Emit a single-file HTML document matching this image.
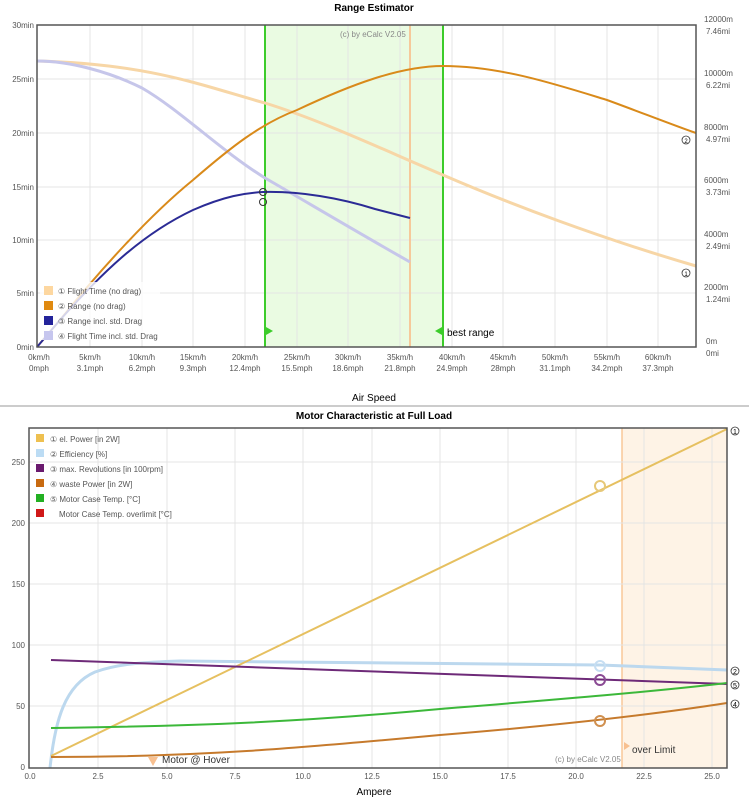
<!DOCTYPE html>
<html><head><meta charset="utf-8"><style>
body{margin:0;background:#fff;}
svg{display:block;font-family:"Liberation Sans",sans-serif;}
</style></head><body>
<svg width="749" height="800" viewBox="0 0 749 800">
<rect width="749" height="800" fill="#fff"/>
<!-- ============ CHART 1 ============ -->
<text x="374" y="11" font-size="10" font-weight="bold" text-anchor="middle">Range Estimator</text>
<!-- green band -->
<rect x="265" y="25" width="178" height="322" fill="#eafbe2"/>
<g stroke="#e4e4e4" stroke-width="1">
<line x1="37" y1="79" x2="696" y2="79"/><line x1="37" y1="133" x2="696" y2="133"/><line x1="37" y1="187" x2="696" y2="187"/><line x1="37" y1="240" x2="696" y2="240"/><line x1="37" y1="293" x2="696" y2="293"/>
<line x1="90" y1="25" x2="90" y2="347"/><line x1="142" y1="25" x2="142" y2="347"/><line x1="193" y1="25" x2="193" y2="347"/><line x1="245" y1="25" x2="245" y2="347"/><line x1="297" y1="25" x2="297" y2="347"/><line x1="348" y1="25" x2="348" y2="347"/><line x1="400" y1="25" x2="400" y2="347"/><line x1="452" y1="25" x2="452" y2="347"/><line x1="503" y1="25" x2="503" y2="347"/><line x1="555" y1="25" x2="555" y2="347"/><line x1="607" y1="25" x2="607" y2="347"/><line x1="658" y1="25" x2="658" y2="347"/>
</g>
<line x1="265" y1="25" x2="265" y2="347" stroke="#3ccc2a" stroke-width="2"/>
<line x1="443" y1="25" x2="443" y2="347" stroke="#3ccc2a" stroke-width="2"/>
<line x1="410" y1="25" x2="410" y2="347" stroke="#f6c99a" stroke-width="2"/>
<polygon points="266,327 273,331 266,335" fill="#3ccc2a"/>
<polygon points="442,327 435,331 442,335" fill="#3ccc2a"/>
<text x="447" y="336" font-size="10">best range</text>
<text x="340" y="37" font-size="8" fill="#888">(c) by eCalc  V2.05</text>
<!-- curves -->
<path d="M37,61 C150,64 200,85 265,103 C320,120 375,146 443,175 C510,204 600,238 696,266" fill="none" stroke="#f7d6a6" stroke-width="3"/>
<path d="M37,61 C70,61 110,72 142,88 C180,110 220,150 265,178 C300,198 350,228 410,262" fill="none" stroke="#c6c6ea" stroke-width="3"/>
<path d="M37,347 L60,320 C100,270 150,215 193,180 C230,148 260,124 297,110 C350,85 400,66 443,66 C500,66 555,84 607,100 C640,112 670,124 696,133" fill="none" stroke="#d98a1a" stroke-width="2"/>
<path d="M37,347 L60,320 C100,275 140,235 193,210 C225,196 245,193 263,192 C300,191 340,198 375,209 L410,218" fill="none" stroke="#2b2b95" stroke-width="2"/>
<circle cx="263" cy="192" r="3.5" fill="none" stroke="#333"/>
<circle cx="263" cy="202" r="3.5" fill="none" stroke="#333"/>
<circle cx="686" cy="140" r="4" fill="#fff" stroke="#333" stroke-width=".8"/><text x="686" y="143" font-size="6" text-anchor="middle">2</text>
<circle cx="686" cy="273" r="4" fill="#fff" stroke="#333" stroke-width=".8"/><text x="686" y="276" font-size="6" text-anchor="middle">1</text>
<!-- legend -->
<rect x="40" y="282" width="120" height="58" fill="#fff" opacity=".8"/>
<g font-size="8" fill="#555">
<rect x="44" y="286" width="9" height="9" fill="#fdd7a0"/><text x="58" y="294">① Flight Time (no drag)</text>
<rect x="44" y="301" width="9" height="9" fill="#e08a10"/><text x="58" y="309">② Range (no drag)</text>
<rect x="44" y="316" width="9" height="9" fill="#23239a"/><text x="58" y="324">③ Range incl. std. Drag</text>
<rect x="44" y="331" width="9" height="9" fill="#c6c6ee"/><text x="58" y="339">④ Flight Time incl. std. Drag</text>
</g>
<rect x="37" y="25" width="659" height="322" fill="none" stroke="#555" stroke-width="1.5"/>
<g font-size="8" fill="#555" text-anchor="end">
<text x="34" y="28">30min</text><text x="34" y="82">25min</text><text x="34" y="136">20min</text><text x="34" y="190">15min</text><text x="34" y="243">10min</text><text x="34" y="296">5min</text><text x="34" y="350">0min</text>
</g>
<g font-size="8" fill="#555">
<text x="704" y="22">12000m</text><text x="706" y="34">7.46mi</text>
<text x="704" y="76">10000m</text><text x="706" y="88">6.22mi</text>
<text x="704" y="130">8000m</text><text x="706" y="142">4.97mi</text>
<text x="704" y="183">6000m</text><text x="706" y="195">3.73mi</text>
<text x="704" y="237">4000m</text><text x="706" y="249">2.49mi</text>
<text x="704" y="290">2000m</text><text x="706" y="302">1.24mi</text>
<text x="706" y="344">0m</text><text x="706" y="356">0mi</text>
</g>
<g font-size="8" fill="#555" text-anchor="middle">
<text x="39" y="360">0km/h</text><text x="39" y="371">0mph</text>
<text x="90" y="360">5km/h</text><text x="90" y="371">3.1mph</text>
<text x="142" y="360">10km/h</text><text x="142" y="371">6.2mph</text>
<text x="193" y="360">15km/h</text><text x="193" y="371">9.3mph</text>
<text x="245" y="360">20km/h</text><text x="245" y="371">12.4mph</text>
<text x="297" y="360">25km/h</text><text x="297" y="371">15.5mph</text>
<text x="348" y="360">30km/h</text><text x="348" y="371">18.6mph</text>
<text x="400" y="360">35km/h</text><text x="400" y="371">21.8mph</text>
<text x="452" y="360">40km/h</text><text x="452" y="371">24.9mph</text>
<text x="503" y="360">45km/h</text><text x="503" y="371">28mph</text>
<text x="555" y="360">50km/h</text><text x="555" y="371">31.1mph</text>
<text x="607" y="360">55km/h</text><text x="607" y="371">34.2mph</text>
<text x="658" y="360">60km/h</text><text x="658" y="371">37.3mph</text>
</g>
<text x="374" y="401" font-size="10" text-anchor="middle">Air Speed</text>
<line x1="0" y1="406" x2="749" y2="406" stroke="#999" stroke-width="1"/>
<!-- ============ CHART 2 ============ -->
<text x="374" y="419" font-size="10" font-weight="bold" text-anchor="middle">Motor Characteristic at Full Load</text>
<rect x="622" y="428" width="105" height="340" fill="#fef3e6"/>
<line x1="622" y1="428" x2="622" y2="768" stroke="#f8c898" stroke-width="1.5"/>
<g stroke="#e4e4e4" stroke-width="1">
<line x1="29" y1="706" x2="727" y2="706"/><line x1="29" y1="645" x2="727" y2="645"/><line x1="29" y1="584" x2="727" y2="584"/><line x1="29" y1="523" x2="727" y2="523"/><line x1="29" y1="462" x2="727" y2="462"/>
<line x1="98" y1="428" x2="98" y2="768"/><line x1="167" y1="428" x2="167" y2="768"/><line x1="235" y1="428" x2="235" y2="768"/><line x1="303" y1="428" x2="303" y2="768"/><line x1="372" y1="428" x2="372" y2="768"/><line x1="440" y1="428" x2="440" y2="768"/><line x1="508" y1="428" x2="508" y2="768"/><line x1="576" y1="428" x2="576" y2="768"/><line x1="644" y1="428" x2="644" y2="768"/><line x1="712" y1="428" x2="712" y2="768"/>
</g>
<path d="M50,768 C55,720 65,685 95,672 C120,663 150,662 180,661 L600,665 L727,670" fill="none" stroke="#bcd8ee" stroke-width="3"/>
<line x1="51" y1="756" x2="727" y2="429" stroke="#e6c060" stroke-width="2"/>
<line x1="51" y1="660" x2="727" y2="684" stroke="#6e2a78" stroke-width="2"/>
<path d="M51,728 C200,726 300,722 440,709 C550,700 650,692 727,683" fill="none" stroke="#3cb83a" stroke-width="2"/>
<path d="M51,757 C200,757 300,748 440,735 C550,726 650,715 727,703" fill="none" stroke="#c67a2c" stroke-width="2"/>
<circle cx="600" cy="486" r="5" fill="none" stroke="#e6c878" stroke-width="2"/>
<circle cx="600" cy="666" r="5" fill="none" stroke="#c6def2" stroke-width="2"/>
<circle cx="600" cy="680" r="5" fill="none" stroke="#8a4a94" stroke-width="2"/>
<circle cx="600" cy="721" r="5" fill="none" stroke="#d09050" stroke-width="2"/>
<polygon points="148,757 158,757 153,766" fill="#f8c090"/>
<text x="162" y="763" font-size="10" fill="#333">Motor @ Hover</text>
<polygon points="624,742 630,746 624,750" fill="#f8c090"/>
<text x="632" y="753" font-size="10" fill="#333">over Limit</text>
<text x="555" y="762" font-size="8" fill="#888">(c) by eCalc  V2.05</text>
<g font-size="7">
<circle cx="735" cy="431" r="4" fill="#fff" stroke="#333" stroke-width=".8"/><text x="735" y="434" text-anchor="middle">1</text>
<circle cx="735" cy="671" r="4" fill="#fff" stroke="#333" stroke-width=".8"/><text x="735" y="674" text-anchor="middle">2</text>
<circle cx="735" cy="685" r="4" fill="#fff" stroke="#333" stroke-width=".8"/><text x="735" y="688" text-anchor="middle">5</text>
<circle cx="735" cy="704" r="4" fill="#fff" stroke="#333" stroke-width=".8"/><text x="735" y="707" text-anchor="middle">4</text>
</g>
<g font-size="8" fill="#555">
<rect x="36" y="434" width="8" height="8" fill="#eec050"/><text x="50" y="442">① el. Power [in 2W]</text>
<rect x="36" y="449" width="8" height="8" fill="#bcdcf4"/><text x="50" y="457">② Efficiency [%]</text>
<rect x="36" y="464" width="8" height="8" fill="#6a1a6e"/><text x="50" y="472">③ max. Revolutions [in 100rpm]</text>
<rect x="36" y="479" width="8" height="8" fill="#c86a10"/><text x="50" y="487">④ waste Power [in 2W]</text>
<rect x="36" y="494" width="8" height="8" fill="#22b022"/><text x="50" y="502">⑤ Motor Case Temp. [°C]</text>
<rect x="36" y="509" width="8" height="8" fill="#d01818"/><text x="59" y="517">Motor Case Temp. overlimit [°C]</text>
</g>
<rect x="29" y="428" width="698" height="340" fill="none" stroke="#555" stroke-width="1.5"/>
<g font-size="8" fill="#555" text-anchor="end">
<text x="25" y="770">0</text><text x="25" y="709">50</text><text x="25" y="648">100</text><text x="25" y="587">150</text><text x="25" y="526">200</text><text x="25" y="465">250</text>
</g>
<g font-size="8" fill="#555" text-anchor="middle">
<text x="30" y="779">0.0</text><text x="98" y="779">2.5</text><text x="167" y="779">5.0</text><text x="235" y="779">7.5</text><text x="303" y="779">10.0</text><text x="372" y="779">12.5</text><text x="440" y="779">15.0</text><text x="508" y="779">17.5</text><text x="576" y="779">20.0</text><text x="644" y="779">22.5</text><text x="712" y="779">25.0</text>
</g>
<text x="374" y="795" font-size="10" text-anchor="middle">Ampere</text>
</svg>
</body></html>
